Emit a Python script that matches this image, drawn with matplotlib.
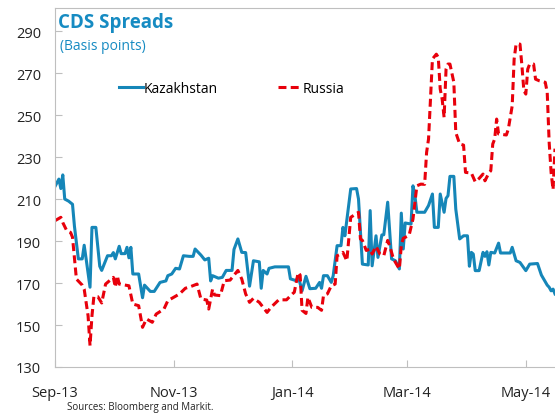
import matplotlib
matplotlib.use('Agg')
import matplotlib.pyplot as plt
import matplotlib.dates as mdates
import numpy as np

plt.rcParams['font.family'] = ['Open Sans', 'DejaVu Sans']

start = np.datetime64('2013-09-01')

# days after 1 Sep 2013, values in basis points
kaz_days = [0, 2, 3, 4, 5, 7, 9, 10, 12, 14, 15, 16, 18, 19, 21, 23, 24, 27, 29, 30,
            31, 33, 34, 36, 37, 38, 39, 40, 43, 45, 46, 49, 51, 54, 57, 58, 60, 62, 64, 66,
            69, 71, 72, 75, 77, 79, 80, 81, 84, 86, 88, 91, 92, 94, 96, 98, 100, 102, 105, 106,
            107, 109, 110, 113, 120, 121, 124, 125, 127, 129, 131, 134, 136, 137, 138, 140, 142, 143, 145, 147,
            148, 149, 152, 155, 156, 158, 161, 162, 163, 165, 166, 168, 169, 171, 173, 175, 177, 178, 179, 180,
            183, 184, 185, 186, 190, 192, 194, 195, 197, 198, 200, 201, 202, 203, 205, 206, 208, 210, 212, 213,
            214, 215, 216, 218, 220, 221, 222, 223, 224, 226, 228, 229, 234, 235, 237, 239, 242, 244, 248, 250,
            253, 254, 255, 256, 257]
kaz_vals = [216, 219.5, 215, 221.5, 210, 209, 207.5, 197, 181.5, 181.5, 188, 181.5, 168, 196.5, 196.5, 178, 176, 183, 183, 184.5,
            181.5, 187.5, 184, 184, 187, 182, 187, 174.3, 174.3, 163, 169, 166, 166, 170.3, 171, 173.5, 174.3, 177, 176.7, 183,
            182.7, 182.7, 186.2, 183.3, 181, 181.8, 171, 173.5, 172.3, 172.7, 176, 176, 186, 191, 184.6, 184.5, 168.5, 180.6, 180.1, 167.5,
            176, 174.3, 177, 177.7, 177.7, 172, 171.1, 173.2, 166.3, 173.2, 167.3, 167.5, 170.3, 167.5, 173.5, 173.5, 170.3, 173.5, 187.8, 187.8,
            196.5, 192.5, 214.8, 215, 210, 179, 178.6, 204.5, 178.2, 192.5, 182.2, 192.9, 193, 208.5, 181.5, 180.6, 176.7, 203.3, 186.2, 198.6,
            198.1, 216.3, 211.6, 203.7, 203.7, 206.9, 212.4, 196.5, 196.5, 212.4, 203.7, 210.3, 211.6, 220.8, 220.8, 205.2, 191, 192.5, 192.5, 178,
            184.6, 183.8, 175.9, 175.9, 184.6, 182.7, 184.9, 178.6, 184.6, 184.3, 189, 184.3, 184.3, 187, 180.6, 179.8, 175.9, 179, 179.3, 173.8,
            169, 168, 166.3, 167.1, 164.8]

rus_days = [0, 3, 4, 6, 8, 9, 11, 14, 15, 17, 18, 19, 20, 22, 24, 26, 28, 30, 31, 32,
            33, 38, 40, 43, 45, 47, 50, 52, 56, 58, 61, 64, 67, 70, 73, 75, 78, 79, 81, 82,
            85, 87, 90, 94, 96, 98, 100, 102, 105, 109, 111, 115, 119, 122, 123, 125, 126, 127, 129, 130,
            132, 135, 137, 138, 140, 142, 144, 145, 147, 148, 150, 151, 152, 156, 157, 158, 160, 162, 163, 165,
            167, 169, 171, 172, 174, 175, 177, 178, 179, 182, 184, 186, 188, 190, 191, 192, 194, 196, 197, 198,
            199, 200, 201, 202, 203, 205, 206, 208, 210, 211, 214, 216, 218, 220, 221, 223, 224, 225, 226, 227,
            228, 232, 233, 235, 236, 237, 239, 240, 241, 242, 243, 244, 246, 247, 249, 252, 253, 254, 255, 256,
            257]
rus_vals = [199.7, 201.3, 198.8, 195, 194.1, 191.8, 171.9, 169, 167.1, 154.4, 140.2, 154.4, 163.7, 163.5, 160.5, 169.5, 171.1, 172.7, 168, 173.5,
            169.5, 168.7, 160, 159.2, 148.9, 152.9, 151.3, 155.2, 157.6, 161.6, 163.2, 164.8, 167.5, 168.4, 169.5, 162.4, 161.9, 157.6, 167.1, 164.3,
            164, 171.1, 171.4, 176, 171.9, 164.8, 160.8, 162.7, 160.8, 156, 158.4, 162, 162, 164.8, 165.6, 175, 173.8, 157, 155.5, 163.2,
            158.4, 158.4, 157, 164, 164.8, 168.7, 169.5, 183, 183.8, 184.6, 180.6, 191, 201.3, 203.7, 191, 190.3, 185.5, 186.2, 183.8, 187.5,
            183.8, 183, 190.3, 187.8, 181.4, 179.8, 176.7, 187.8, 191.3, 192.7, 200.5, 216.3, 217.1, 217, 232.2, 238.6, 276.7, 279, 277.5, 262.4,
            257.6, 248.9, 271.9, 274.3, 274.3, 265.6, 241.7, 236.2, 235.7, 222.7, 222.4, 218.2, 219.8, 221.9, 218.7, 222.4, 223.5, 236.2, 238.6, 248.1,
            241, 240.5, 243.3, 254.4, 276.7, 283.8, 283.8, 273.5, 261.6, 260, 271.9, 274.3, 274.3, 267.1, 266.3, 265.6, 260.8, 237, 222.7, 214.5,
            234]

kaz_dates = start + np.array(kaz_days).astype('timedelta64[D]')
rus_dates = start + np.array(rus_days).astype('timedelta64[D]')

blue = '#1586b8'
red = '#e8000b'
grey = '#bfbfbf'

fig = plt.figure(figsize=(5.55, 4.14), dpi=100)
ax = fig.add_axes([55/555, 46/414, 500/555, 359/414])

ax.plot(kaz_dates, kaz_vals, color=blue, lw=2.2, label='Kazakhstan')
ax.plot(rus_dates, rus_vals, color=red, lw=2.2, ls=(0, (2.6, 1.4)), label='Russia')

ax.set_ylim(130, 301)
ax.set_yticks(np.arange(130, 300, 20))
ax.set_xlim(start, start + np.timedelta64(257, 'D'))
ax.xaxis.set_major_locator(mdates.MonthLocator(bymonth=[1, 3, 5, 9, 11]))
ax.xaxis.set_major_formatter(mdates.DateFormatter('%b-%y'))

for s in ['left', 'bottom', 'top']:
    ax.spines[s].set_color(grey)
ax.spines['right'].set_visible(False)
ax.tick_params(direction='in', length=5, color=grey, labelsize=10.5, labelcolor='#222222')
ax.tick_params(axis='x', pad=13)
ax.tick_params(axis='y', pad=10)

ax.legend(loc='center left', bbox_to_anchor=(0.128, 0.777), ncol=2, frameon=False,
          fontsize=10, handlelength=1.7, handletextpad=0.1, columnspacing=4.3,
          borderpad=0, borderaxespad=0)

fig.text(58/555, 1 - 13/414, 'CDS Spreads', color='#168bc2', fontsize=13.5,
         fontweight='bold', va='top', ha='left')
fig.text(60/555, 1 - 47/414, '(Basis points)', color='#168bc2', fontsize=10,
         va='center', ha='left')
fig.text(67/555, 1 - 402/414, 'Sources: Bloomberg and Markit.', color='#222222',
         fontsize=7, va='top', ha='left')

fig.savefig('out.png', dpi=100)
